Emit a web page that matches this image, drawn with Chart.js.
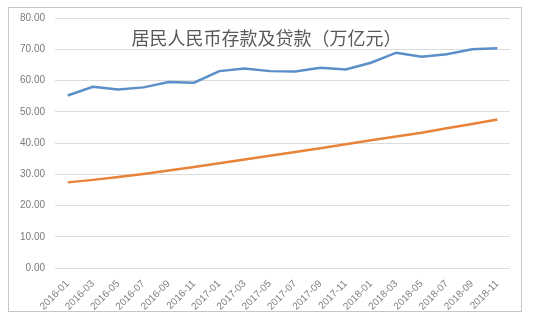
<!DOCTYPE html>
<html>
<head>
<meta charset="utf-8">
<script src="https://cdn.jsdelivr.net/npm/chart.js@4.4.0/dist/chart.umd.min.js"></script>
<style>
  html, body { margin: 0; padding: 0; background: #fff; }
  #frame { position: absolute; left: 8px; top: 7px; width: 514px; height: 305px; border: 1px solid #c6c6c6; box-sizing: border-box; }
  #wrap { position: absolute; left: 0; top: 0; width: 535px; height: 324px; }
</style>
</head>
<body>
<div id="frame"></div>
<div id="wrap"><canvas id="c" width="535" height="324"></canvas></div>
<script>
const categories = ["2016-01","2016-03","2016-05","2016-07","2016-09","2016-11","2017-01","2017-03","2017-05","2017-07","2017-09","2017-11","2018-01","2018-03","2018-05","2018-07","2018-09","2018-11"];
const deposits = [55.2, 58.0, 57.1, 57.8, 59.5, 59.3, 63.0, 63.8, 63.0, 62.9, 64.1, 63.5, 65.7, 68.9, 67.6, 68.4, 70.0, 70.3];
const loans = [27.4, 28.2, 29.1, 30.1, 31.2, 32.3, 33.5, 34.7, 35.9, 37.1, 38.3, 39.6, 40.9, 42.1, 43.3, 44.7, 46.1, 47.5];
const titleText = "居民人民币存款及贷款（万亿元）";

const titlePlugin = {
  id: 'innerTitle',
  afterDraw(chart) {
    const ctx = chart.ctx;
    const a = chart.chartArea;
    ctx.save();
    ctx.font = '18px "Noto Sans CJK SC", sans-serif';
    ctx.fillStyle = '#595959';
    ctx.textAlign = 'center';
    ctx.textBaseline = 'middle';
    ctx.fillText(titleText, (a.left + a.right) / 2 - 16, a.top + 20);
    ctx.restore();
  }
};

new Chart(document.getElementById('c'), {
  type: 'line',
  data: {
    labels: categories,
    datasets: [
      { label: '存款', data: deposits, borderColor: '#5b8fc8', borderWidth: 2.5, pointRadius: 0, tension: 0, fill: false },
      { label: '贷款', data: loans, borderColor: '#e8833a', borderWidth: 2.5, pointRadius: 0, tension: 0, fill: false }
    ]
  },
  options: {
    responsive: false,
    animation: false,
    layout: { padding: { top: 18, right: 25, left: 0, bottom: 0 } },
    plugins: { legend: { display: false }, title: { display: false }, tooltip: { enabled: false } },
    scales: {
      x: {
        offset: true,
        grid: { display: false },
        border: { display: false },
        ticks: {
          autoSkip: false, minRotation: 45, maxRotation: 45,
          color: '#808080', font: { size: 10, family: 'Liberation Sans, Arial, sans-serif' }, padding: 2
        },
        afterFit(s) { s.height = 56; }
      },
      y: {
        min: 0, max: 80,
        grid: { color: '#dcdcdc', lineWidth: 1, drawTicks: false },
        border: { display: false },
        ticks: {
          stepSize: 10, padding: 10,
          color: '#7a7a7a', font: { size: 10, family: 'Liberation Sans, Arial, sans-serif' },
          callback: v => v.toFixed(2)
        },
        afterFit(s) { s.width = 55; }
      }
    }
  },
  plugins: [titlePlugin]
});
</script>
</body>
</html>
